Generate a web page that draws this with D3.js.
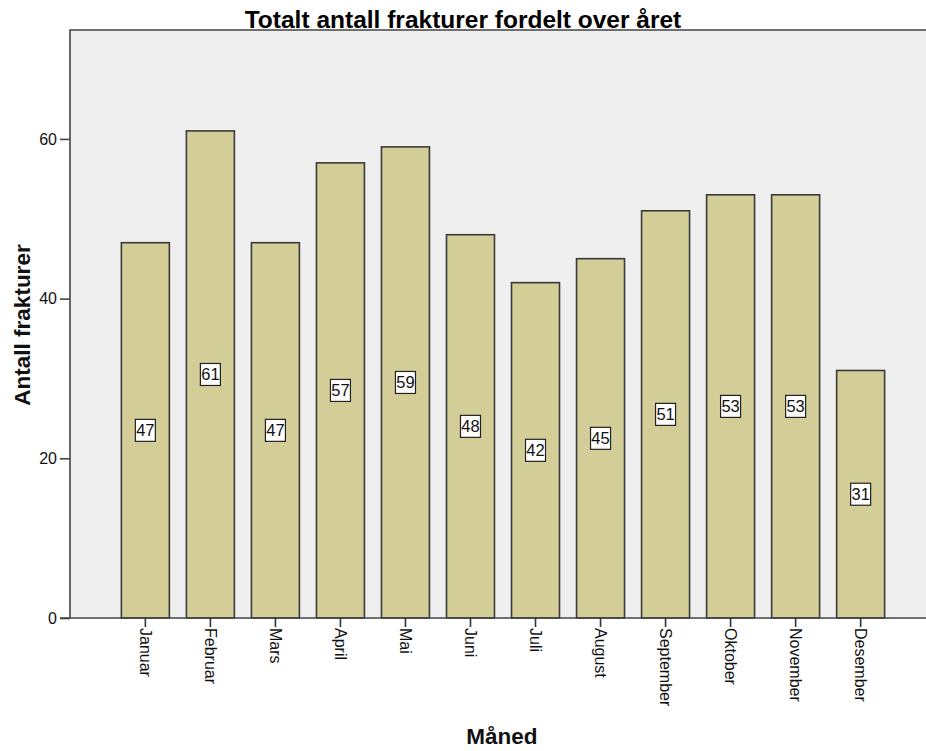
<!DOCTYPE html>
<html>
<head>
<meta charset="utf-8">
<script src="https://cdn.jsdelivr.net/npm/d3@7"></script>
<style>
  html, body { margin: 0; padding: 0; background: #fff; }
  svg { display: block; font-family: Arial, "Liberation Sans", sans-serif; }
</style>
</head>
<body>
<svg id="chart" width="926" height="751"></svg>
<script>
// Fractures per month
const months = ["Januar", "Februar", "Mars", "April", "Mai", "Juni", "Juli",
                "August", "September", "Oktober", "November", "Desember"];
const counts = [47, 61, 47, 57, 59, 48, 42, 45, 51, 53, 53, 31];
const yTicks = [0, 20, 40, 60];

const chartTitle = "Totalt antall frakturer fordelt over året";
const xTitle = "Måned";
const yTitle = "Antall frakturer";

const svg = d3.select("#chart");

const plot = { left: 70, top: 30, right: 936, bottom: 618 };

const x = d3.scaleBand()
  .domain(months)
  .range([plot.left, plot.right])
  .paddingInner(0.262)
  .paddingOuter(0.79);

const y = d3.scaleLinear()
  .domain([0, 73.64])
  .range([plot.bottom, plot.top]);

// plot background
svg.append("rect")
  .attr("x", plot.left).attr("y", plot.top)
  .attr("width", plot.right - plot.left)
  .attr("height", plot.bottom - plot.top)
  .attr("fill", "#efefef");

// bars
svg.append("g").selectAll("rect")
  .data(months)
  .join("rect")
  .attr("x", d => x(d))
  .attr("y", (d, i) => y(counts[i]))
  .attr("width", x.bandwidth())
  .attr("height", (d, i) => y(0) - y(counts[i]))
  .attr("fill", "#d3ce98")
  .attr("stroke", "#3a3a3a")
  .attr("stroke-width", 1.6);

// frame lines (left and top)
svg.append("path")
  .attr("d", `M${plot.left},${plot.bottom}V${plot.top}H${plot.right}`)
  .attr("fill", "none")
  .attr("stroke", "#444")
  .attr("stroke-width", 1.6);

// y axis
const yAxis = svg.append("g")
  .attr("transform", `translate(${plot.left},0)`)
  .call(d3.axisLeft(y).tickValues(yTicks).tickSize(10).tickPadding(3).tickFormat(d3.format("d")));
yAxis.select(".domain").remove();
yAxis.selectAll(".tick line").attr("stroke", "#444").attr("stroke-width", 1.6);
yAxis.selectAll(".tick text")
  .attr("font-size", 16)
  .attr("fill", "#111")
  .attr("font-family", "Arial, 'Liberation Sans', sans-serif");

// x axis
const xAxis = svg.append("g")
  .attr("transform", `translate(0,${plot.bottom})`)
  .call(d3.axisBottom(x).tickSize(9).tickSizeOuter(0));
xAxis.select(".domain")
  .attr("d", `M${plot.left - 10},0H${plot.right}`)
  .attr("stroke", "#444").attr("stroke-width", 1.6);
xAxis.selectAll(".tick line").attr("stroke", "#333").attr("stroke-width", 1.6);
xAxis.selectAll(".tick text")
  .attr("font-size", 16)
  .attr("fill", "#111")
  .attr("font-family", "Arial, 'Liberation Sans', sans-serif")
  .attr("text-anchor", "start")
  .attr("transform", "rotate(90)")
  .attr("x", 10)
  .attr("y", 0)
  .attr("dy", "0.35em");

// value labels in boxes at bar mid-height
const labels = svg.append("g").selectAll("g")
  .data(months)
  .join("g")
  .attr("transform", (d, i) => `translate(${x(d) + x.bandwidth() / 2},${y(counts[i] / 2)})`);
labels.append("rect")
  .attr("x", -10).attr("y", -11)
  .attr("width", 20).attr("height", 22)
  .attr("fill", "#fff")
  .attr("stroke", "#222")
  .attr("stroke-width", 1.2);
labels.append("text")
  .attr("text-anchor", "middle")
  .attr("dy", "0.36em")
  .attr("font-size", 16.5)
  .attr("fill", "#111")
  .text((d, i) => counts[i]);

// titles
svg.append("text")
  .attr("x", 463).attr("y", 28)
  .attr("text-anchor", "middle")
  .attr("font-size", 24.5)
  .attr("font-weight", "bold")
  .attr("fill", "#000")
  .text(chartTitle);

svg.append("text")
  .attr("x", 502).attr("y", 744)
  .attr("text-anchor", "middle")
  .attr("font-size", 22.5)
  .attr("font-weight", "bold")
  .attr("fill", "#111")
  .text(xTitle);

svg.append("text")
  .attr("transform", `translate(30,325) rotate(-90)`)
  .attr("text-anchor", "middle")
  .attr("font-size", 22.5)
  .attr("font-weight", "bold")
  .attr("fill", "#111")
  .text(yTitle);
</script>
</body>
</html>
